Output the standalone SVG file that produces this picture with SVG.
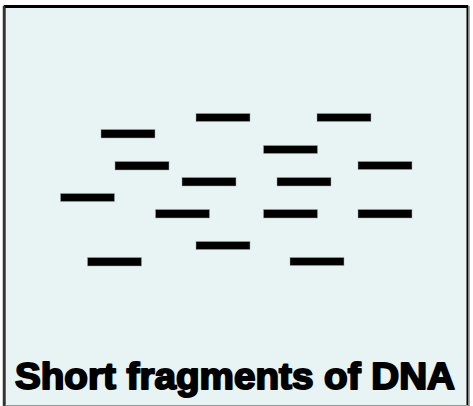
<svg xmlns="http://www.w3.org/2000/svg" width="473" height="406" viewBox="0 0 473 406">
  <style>
    .frag { fill: #000; stroke: #9aa; stroke-width: 0.5; }
    .title { font-family: "Liberation Sans", Arial, sans-serif; font-weight: bold; font-size: 37px; fill: #000; stroke: #000; stroke-width: 2; stroke-linejoin: round; }
  </style>
  <rect width="473" height="406" fill="#ffffff"/>
  <!-- panel with heavy top/left edge and light shadowed right/bottom edge -->
  <g id="panel">
    <rect x="4.5" y="6.5" width="463" height="400" fill="#e8f4f4" stroke="#000" stroke-width="2"/>
    <line x1="469" y1="6" x2="469" y2="406" stroke="#888" stroke-width="1.5"/>
    <line x1="4" y1="405.5" x2="468" y2="405.5" stroke="#999" stroke-width="1"/>
    <line x1="4" y1="6.5" x2="468" y2="6.5" stroke="#000" stroke-width="3"/>
    <line x1="4" y1="6" x2="4" y2="406" stroke="#333" stroke-width="2.5"/>
  </g>
  <!-- DNA fragments -->
  <g id="fragments">
    <rect class="frag" x="196" y="113.5" width="54" height="8"/>
    <rect class="frag" x="317" y="113.5" width="54" height="8"/>
    <rect class="frag" x="101" y="129.5" width="54" height="8.5"/>
    <rect class="frag" x="263.5" y="145.5" width="54" height="8"/>
    <rect class="frag" x="115" y="161.5" width="54" height="8.5"/>
    <rect class="frag" x="358" y="161.5" width="54" height="8"/>
    <rect class="frag" x="182" y="177.5" width="54" height="8.5"/>
    <rect class="frag" x="277" y="177.5" width="54" height="8.5"/>
    <rect class="frag" x="60.5" y="193.5" width="54" height="8"/>
    <rect class="frag" x="155.5" y="209.5" width="54" height="8.5"/>
    <rect class="frag" x="263.5" y="209.5" width="54" height="8.5"/>
    <rect class="frag" x="358" y="209.5" width="54" height="8.5"/>
    <rect class="frag" x="196" y="241.5" width="54" height="8"/>
    <rect class="frag" x="87.5" y="257.5" width="54" height="8.5"/>
    <rect class="frag" x="290" y="257.5" width="54" height="8"/>
  </g>
  <g id="caption">
    <text class="title" x="15" y="389" textLength="440" lengthAdjust="spacingAndGlyphs">Short fragments of DNA</text>
  </g>
</svg>
